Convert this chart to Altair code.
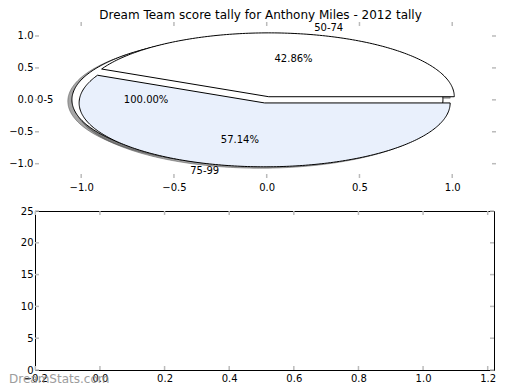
import math
import numpy as np
import pandas as pd
import altair as alt

# ---------------- data ----------------
title_text = "Dream Team score tally for Anthony Miles - 2012 tally"
watermark = "DreamStats.com"

slice_labels = ["0-5", "50-74", "75-99"]
slice_values = [1, 3, 4]
slice_pie = [0, 1, 1]          # two pie calls drawn on the same axes
slice_fill = ["#ffffff", "#ffffff", "#e9f0fc"]

pie_x_ticks = [-1.0, -0.5, 0.0, 0.5, 1.0]
pie_y_ticks = [-1.0, -0.5, 0.0, 0.5, 1.0]
bar_x_ticks = [-0.2, 0.0, 0.2, 0.4, 0.6, 0.8, 1.0, 1.2]
bar_y_ticks = [0, 5, 10, 15, 20, 25]

EXPLODE = 0.05
LABEL_DIST = 1.1
PCT_DIST = 0.6
SHADOW = 0.022
NPTS = 360

# ---------------- pie geometry (from the values) ----------------
poly_rows, text_rows = [], []
for pie in sorted(set(slice_pie)):
    idx = [i for i, p in enumerate(slice_pie) if p == pie]
    total = float(sum(slice_values[i] for i in idx))
    start = 0.0
    for i in idx:
        frac = slice_values[i] / total
        t1, t2 = start, start + 2 * math.pi * frac
        tm = (t1 + t2) / 2
        cx, cy = EXPLODE * math.cos(tm), EXPLODE * math.sin(tm)
        angs = np.linspace(t1, t2, max(int(NPTS * frac), 8) + 1)
        pts = [(cx + math.cos(a), cy + math.sin(a)) for a in angs]
        if frac < 0.999999:
            pts = [(cx, cy)] + pts + [(cx, cy)]
        for k, (px, py) in enumerate(pts):
            poly_rows.append({"slice": slice_labels[i], "k": k, "x": px, "y": py})
        lx = cx + LABEL_DIST * math.cos(tm)
        ly = cy + LABEL_DIST * math.sin(tm)
        text_rows.append({"x": lx, "y": ly, "t": slice_labels[i],
                          "al": "left" if lx > 0 else "right"})
        text_rows.append({"x": cx + PCT_DIST * math.cos(tm),
                          "y": cy + PCT_DIST * math.sin(tm),
                          "t": "%.2f%%" % (100 * frac), "al": "center"})
        start = t2

poly = pd.DataFrame(poly_rows)
texts = pd.DataFrame(text_rows)

W_TOP = 461
W_BOT = 459
H_TOP = 156
H_BOT = 159
TICK_C = "#bbbbbb"

px_scale = alt.Scale(domain=[-1.249, 1.236], nice=False, zero=False)
py_scale = alt.Scale(domain=[-1.224, 1.219], nice=False, zero=False)
px_axis = alt.Axis(values=pie_x_ticks, format=".1f", title=None, ticks=False, domain=False,
                   grid=False, labelPadding=4.5, labelFlush=False, labelOverlap=False)
py_axis = alt.Axis(values=pie_y_ticks, format=".1f", title=None, ticks=False, domain=False,
                   grid=False, labelPadding=2, labelOverlap=False)
X = alt.X("x:Q", scale=px_scale, axis=px_axis)
Y = alt.Y("y:Q", scale=py_scale, axis=py_axis)

base = alt.Chart(poly)
layers = []
shadow = base.transform_calculate(
    sx=f"datum.x - {SHADOW}", sy=f"datum.y - {SHADOW}"
).mark_line(fill="#4d4d4d", fillOpacity=0.5, stroke="#4d4d4d", strokeOpacity=0.5,
            strokeWidth=1).encode(
    x=alt.X("sx:Q", scale=px_scale, axis=px_axis),
    y=alt.Y("sy:Q", scale=py_scale, axis=py_axis),
    detail="slice:N", order="k:Q")
layers.append(shadow)
for lab, col in zip(slice_labels, slice_fill):
    layers.append(base.transform_filter(alt.datum.slice == lab).mark_line(
        fill=col, stroke="black", strokeWidth=1).encode(x=X, y=Y, order="k:Q"))
for al in ["left", "right", "center"]:
    layers.append(alt.Chart(texts).transform_filter(alt.datum.al == al).mark_text(
        align=al, baseline="middle", fontSize=10, color="black", font="DejaVu Sans"
    ).encode(x=X, y=Y, text="t:N"))

pxt = pd.DataFrame({"x": pie_x_ticks})
pyt = pd.DataFrame({"y": pie_y_ticks})
layers += [
    alt.Chart(pxt).mark_rule(color=TICK_C, strokeWidth=1.5).encode(x=X, y=alt.value(0), y2=alt.value(4)),
    alt.Chart(pxt).mark_rule(color=TICK_C, strokeWidth=1.5).encode(x=X, y=alt.value(H_TOP - 4), y2=alt.value(H_TOP)),
    alt.Chart(pyt).mark_rule(color=TICK_C, strokeWidth=1.5).encode(y=Y, x=alt.value(0), x2=alt.value(4)),
    alt.Chart(pyt).mark_rule(color=TICK_C, strokeWidth=1.5).encode(y=Y, x=alt.value(W_TOP - 4), x2=alt.value(W_TOP)),
]

top = alt.layer(*layers).properties(
    width=W_TOP, height=H_TOP,
    view=alt.ViewBackground(stroke="transparent"),
    title=alt.TitleParams(title_text, fontSize=12, font="DejaVu Sans", fontWeight="normal",
                          offset=-1, anchor="middle", color="black", dx=-5),
)

# ---------------- empty lower axes ----------------
bx_scale = alt.Scale(domain=[-0.201, 1.2195], nice=False, zero=False)
by_scale = alt.Scale(domain=[0, 25], nice=False, zero=False)
bx_axis = alt.Axis(values=bar_x_ticks, format=".1f", title=None, ticks=False, domain=False,
                   grid=False, labelPadding=3.5, labelFlush=False, labelOverlap=False)
by_axis = alt.Axis(values=bar_y_ticks, format="d", title=None, ticks=False, domain=False,
                   grid=False, labelPadding=2, labelOverlap=False)
BX = alt.X("x:Q", scale=bx_scale, axis=bx_axis)
BY = alt.Y("y:Q", scale=by_scale, axis=by_axis)
bxt = pd.DataFrame({"x": bar_x_ticks})
byt = pd.DataFrame({"y": bar_y_ticks})
blayers = [
    alt.Chart(bxt).mark_rule(color=TICK_C, strokeWidth=1.5).encode(x=BX, y=alt.value(0), y2=alt.value(4)),
    alt.Chart(bxt).mark_rule(color=TICK_C, strokeWidth=1.5).encode(x=BX, y=alt.value(H_BOT - 4), y2=alt.value(H_BOT)),
    alt.Chart(byt).mark_rule(color=TICK_C, strokeWidth=1.5).encode(y=BY, x=alt.value(0), x2=alt.value(4)),
    alt.Chart(byt).mark_rule(color=TICK_C, strokeWidth=1.5).encode(y=BY, x=alt.value(W_BOT - 4), x2=alt.value(W_BOT)),
    alt.Chart(pd.DataFrame({"t": [watermark]})).mark_text(
        align="left", baseline="alphabetic", fontSize=12, color="#8c8c8c", opacity=0.85,
        font="DejaVu Sans").encode(text="t:N", x=alt.value(-26), y=alt.value(172)),
]
bottom = alt.layer(*blayers).properties(
    width=W_BOT, height=H_BOT,
    view=alt.ViewBackground(stroke="black", strokeWidth=1),
)

chart = alt.vconcat(top, bottom, spacing=12).properties(
    padding={"left": 0, "top": 0, "right": 5, "bottom": 0}
).configure(font="DejaVu Sans").configure_axis(
    labelFontSize=10, labelColor="black", labelFont="DejaVu Sans"
)

chart.save("out.html", embed_options={"renderer": "svg", "actions": False})
